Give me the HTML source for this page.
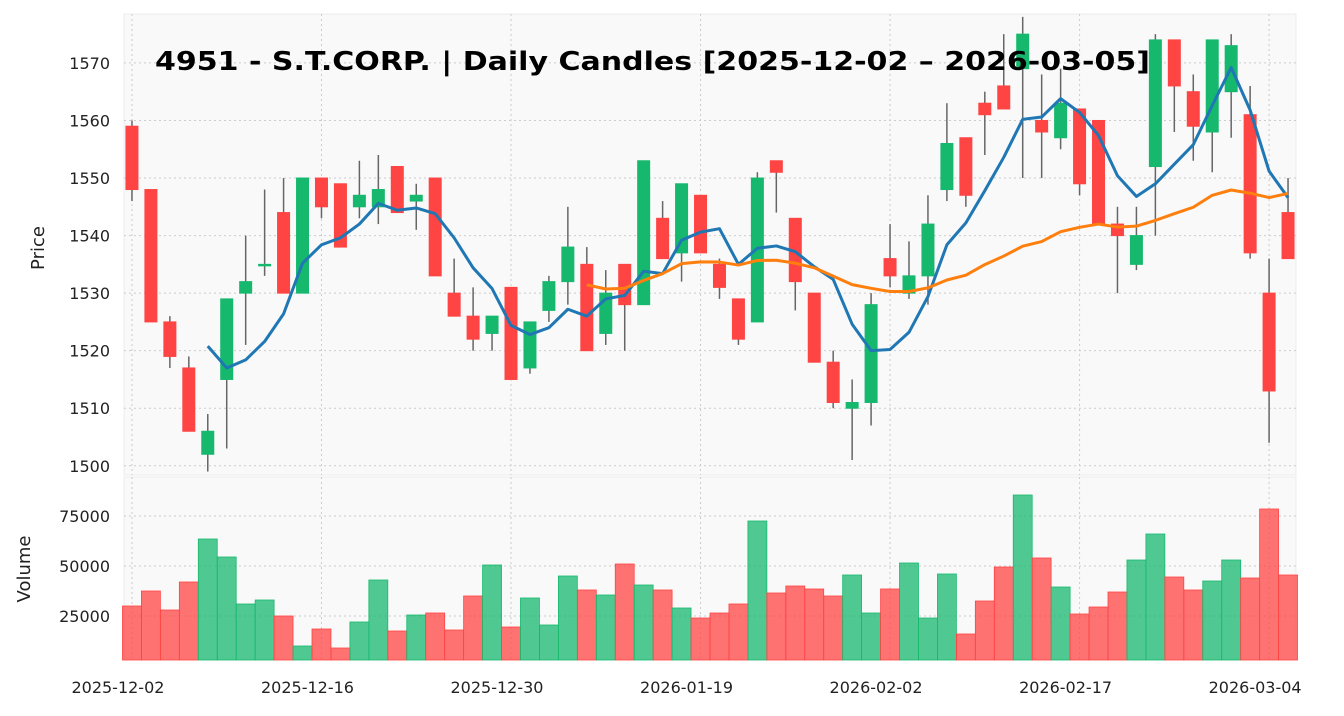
<!DOCTYPE html>
<html><head><meta charset="utf-8"><style>
body{margin:0;background:#fff;font-family:"Liberation Sans","DejaVu Sans",sans-serif}
svg text{font-family:"DejaVu Sans","Liberation Sans",sans-serif}
</style></head><body>
<svg id="c" width="1344" height="711" xmlns="http://www.w3.org/2000/svg"></svg>
<script>
const opens =[1559,1548,1525,1517,1502,1515,1530,1535,1544,1530,1550,1549,1545,1545,1552,1546,1550,1530,1526,1523,1531,1517,1527,1532,1535,1523,1535,1528,1543,1537,1547,1535,1529,1525,1553,1543,1530,1518,1510,1511,1536,1530,1533,1548,1557,1563,1566,1569,1560,1557,1562,1560,1542,1535,1552,1574,1565,1558,1565,1561,1530,1544];
const closes=[1548,1525,1519,1506,1506,1529,1532,1535,1530,1550,1545,1538,1547,1548,1544,1547,1533,1526,1522,1526,1515,1525,1532,1538,1520,1530,1528,1553,1536,1549,1537,1531,1522,1550,1551,1532,1518,1511,1511,1528,1533,1533,1542,1556,1547,1561,1562,1575,1558,1563,1549,1542,1540,1540,1574,1566,1559,1574,1573,1537,1513,1536];
const highs =[1560,1548,1526,1519,1509,1529,1540,1548,1550,1550,1550,1549,1553,1554,1552,1549,1550,1536,1531,1526,1531,1525,1533,1545,1538,1534,1535,1553,1546,1549,1547,1536,1529,1551,1553,1543,1530,1520,1515,1530,1542,1539,1547,1563,1557,1565,1575,1578,1568,1569,1562,1560,1545,1545,1575,1574,1568,1574,1575,1566,1536,1550];
const lows  =[1546,1525,1517,1506,1499,1503,1521,1533,1530,1530,1543,1538,1543,1542,1544,1541,1533,1526,1520,1520,1515,1516,1525,1528,1520,1521,1520,1528,1536,1532,1537,1529,1521,1525,1544,1527,1518,1510,1501,1507,1531,1529,1528,1546,1545,1554,1562,1550,1550,1555,1547,1542,1530,1534,1540,1558,1553,1551,1557,1536,1504,1536];
const volumes=[30000,37500,28000,42000,63500,54500,31000,33000,25000,10000,18500,9000,22000,43000,17500,25500,26500,18000,35000,50500,19500,34000,20500,45000,38000,35500,51000,40500,38000,29000,24000,26500,31000,72500,36500,40000,38500,35000,45500,26500,38500,51500,24000,46000,16000,32500,49500,85500,54000,39500,26000,29500,37000,53000,66000,44500,38000,42500,53000,44000,78500,45500];
const xTickIdx=[0,10,20,30,40,50,60];
const xTickLabels=["2025-12-02","2025-12-16","2025-12-30","2026-01-19","2026-02-02","2026-02-17","2026-03-04"];
const priceTicks=[1500,1510,1520,1530,1540,1550,1560,1570];
const volTicks=[25000,50000,75000];

const S=document.getElementById('c'),NS='http://www.w3.org/2000/svg';
function mk(t,a,p){const e=document.createElementNS(NS,t);for(const k in a)e.setAttribute(k,a[k]);(p||S).appendChild(e);return e;}
const L=124,R=1296,PT=14,PB=475,VT=477,VB=660;
const n=opens.length;
const xs=i=>L+(i+0.42)*(R-L)/(n-1+0.84);
const yp=v=>PB-(v-1498.4)*(PB-PT)/(1578.5-1498.4);
const yv=v=>666-v/500;
const step=(R-L)/(n-1+0.84);

let e=mk('rect',{x:L,y:PT,width:R-L,height:PB-PT,fill:'#f9f9f9',stroke:'#ececec'});

e=mk('rect',{x:L,y:VT,width:R-L,height:VB-VT,fill:'#f9f9f9',stroke:'#ececec'});


xTickIdx.forEach((ix,k)=>{
  const x=xs(ix);
  mk('line',{x1:x,x2:x,y1:PT,y2:PB,stroke:'#ccc','stroke-dasharray':'2,3'});
  mk('line',{x1:x,x2:x,y1:VT,y2:VB,stroke:'#ccc','stroke-dasharray':'2,3'});
  const t=mk('text',{x:x-14,y:693,'text-anchor':'middle','font-size':16,fill:'#222'});t.textContent=xTickLabels[k];
  
});
priceTicks.forEach(v=>{
  const y=yp(v);
  mk('line',{x1:L,x2:R,y1:y,y2:y,stroke:'#ccc','stroke-dasharray':'2,3'});
  const t=mk('text',{x:L-14,y:y+6,'text-anchor':'end','font-size':16,fill:'#222'});t.textContent=v;
  
});
volTicks.forEach(v=>{
  const y=yv(v);
  mk('line',{x1:L,x2:R,y1:y,y2:y,stroke:'#ccc','stroke-dasharray':'2,3'});
  const t=mk('text',{x:L-14,y:y+6,'text-anchor':'end','font-size':16,fill:'#222'});t.textContent=v;
  
});

for(let i=0;i<n;i++){
  const up=closes[i]>=opens[i];
  const b=mk('rect',{x:xs(i)-step/2,y:yv(volumes[i]),width:step,height:VB-yv(volumes[i]),fill:up?'#16b86e':'#ff4444','fill-opacity':0.75,stroke:up?'#16b86e':'#ff4444','stroke-width':0.8});
  
  
}
for(let i=0;i<n;i++){
  const up=closes[i]>=opens[i],x=xs(i),col=up?'#16b86e':'#ff4444';
  const w=mk('line',{x1:x,x2:x,y1:yp(highs[i]),y2:yp(lows[i]),stroke:'#666','stroke-width':1.5});
  
  
  const top=yp(Math.max(opens[i],closes[i])),h=Math.max(1.5,yp(Math.min(opens[i],closes[i]))-top);
  const b=mk('rect',{x:x-6,y:top,width:12,height:h,fill:col,stroke:col,'stroke-width':1});
  
  
}
function sma(p){const o=[];for(let i=p-1;i<n;i++){let s=0;for(let j=i-p+1;j<=i;j++)s+=closes[j];o.push([i,s/p]);}return o;}
[[5,'#1f77b4','sma-5-line'],[25,'#ff7f0e','sma-25-line']].forEach(([p,c,nm])=>{
  const pts=sma(p).map(([i,v])=>xs(i)+','+yp(v)).join(' ');
  const l=mk('polyline',{points:pts,fill:'none',stroke:c,'stroke-width':3,'stroke-linejoin':'round'});
  
  
});
let t=mk('text',{x:44,y:248,'text-anchor':'middle','font-size':18,fill:'#222',transform:'rotate(-90 44 248)'});t.textContent='Price';

t=mk('text',{x:30,y:569,'text-anchor':'middle','font-size':18,fill:'#222',transform:'rotate(-90 30 569)'});t.textContent='Volume';

t=mk('text',{x:155,y:70,'font-size':26,'font-weight':'bold',fill:'#000',textLength:995,lengthAdjust:'spacingAndGlyphs'});t.textContent='4951 - S.T.CORP. | Daily Candles [2025-12-02 – 2026-03-05]';

</script>
</body></html>
